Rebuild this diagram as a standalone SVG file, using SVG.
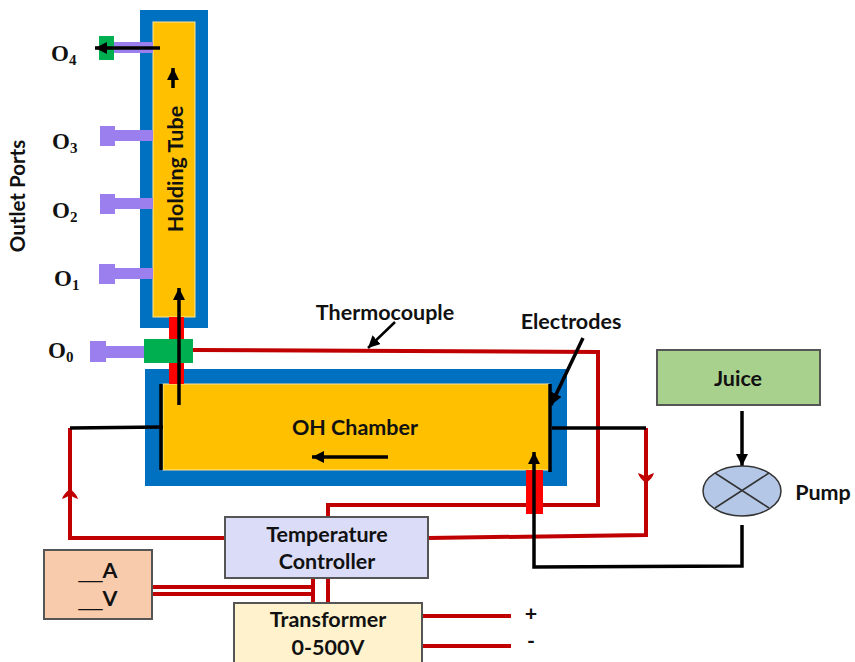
<svg xmlns="http://www.w3.org/2000/svg" width="855" height="662" viewBox="0 0 855 662">
<style>
.c{font-family:Lato,"Open Sans","Liberation Sans",sans-serif;font-weight:700;fill:#111;font-size:21.5px;text-anchor:middle}
.u{font-family:"Liberation Sans",sans-serif;font-weight:400}
.o{font-family:"Liberation Serif",serif;font-weight:700;fill:#111;font-size:23px}
.o tspan{font-size:15px}
.box{stroke:#555;stroke-width:2}
.r{fill:none;stroke:#c00000;stroke-width:4}
.k{fill:none;stroke:#000;stroke-width:3.5}
.p{fill:#9b7fef}
.outer{fill:#0070c0}
.inner{fill:#ffc000;stroke:#ffe699;stroke-width:1}
</style>
<defs>
<marker id="a" markerUnits="userSpaceOnUse" markerWidth="16" markerHeight="16" refX="12" refY="6" orient="auto"><path d="M0,0L12,6L0,12z" fill="#000"/></marker>
<marker id="b" markerUnits="userSpaceOnUse" markerWidth="20" markerHeight="20" refX="12" refY="10" orient="auto"><path d="M12,10C9,6 6,3 2,2C3,5 4,7 5,8.5L5,11.5C4,13 3,15 2,18C6,17 9,14 12,10z" fill="#c00000"/></marker>
</defs>
<g id="holding-tube">
<rect class="outer" x="140" y="10" width="68" height="318"/>
<rect class="inner" x="153" y="22" width="42" height="295"/>
<text class="c" transform="translate(183,169) rotate(-90)">Holding Tube</text>
</g>
<g id="oh-chamber">
<rect class="outer" x="145" y="369" width="422" height="117"/>
<rect class="inner" x="163" y="384" width="386" height="86"/>
<text class="c" x="355" y="435">OH Chamber</text>
</g>
<g id="port-o4">
<rect class="p" x="114" y="42" width="39" height="11"/>
<rect x="99" y="36" width="15" height="24" fill="#00b050"/>
<text class="o" x="51" y="61">O<tspan dy="4">4</tspan></text>
</g>
<g id="port-o3">
<rect class="p" x="115" y="130" width="38" height="11"/>
<rect class="p" x="100" y="126" width="15" height="20"/>
<text class="o" x="52" y="149">O<tspan dy="4">3</tspan></text>
</g>
<g id="port-o2">
<rect class="p" x="115" y="198" width="38" height="11"/>
<rect class="p" x="100" y="194" width="15" height="20"/>
<text class="o" x="52" y="218">O<tspan dy="4">2</tspan></text>
</g>
<g id="port-o1">
<rect class="p" x="115" y="268" width="38" height="11"/>
<rect class="p" x="99" y="264" width="16" height="20"/>
<text class="o" x="54" y="286">O<tspan dy="4">1</tspan></text>
</g>
<g id="junction-o0">
<rect x="169" y="317" width="15" height="67" fill="#f00"/>
<rect class="p" x="106" y="346" width="38" height="12"/>
<rect class="p" x="90" y="341" width="16" height="21"/>
<rect x="144" y="339" width="49" height="24" fill="#00b050"/>
<text class="o" x="48" y="358">O<tspan dy="4">0</tspan></text>
</g>
<g id="outlet-label"><text class="c" transform="translate(25,196) rotate(-90)" style="font-size:20.5px">Outlet Ports</text></g>
<g id="connectors">
<path class="r" d="M193,350L598,352V505H328V517"/>
<path class="r" d="M428,538L646,535V428"/>
<path class="r" d="M225,538H70V428"/>
<path class="r" d="M646,470V483" marker-end="url(#b)"/>
<path class="r" d="M70,505V489" marker-end="url(#b)"/>
<path class="r" d="M152,587H313M152,594H313M313,578V603M328,578V603"/>
<path class="r" d="M422,616H511M422,646H511"/>
<path d="M395,322L368,348" stroke="#000" stroke-width="2.5" fill="none" marker-end="url(#a)"/>
<path class="k" d="M70,428L163,427"/>
<path class="k" d="M161,384V470"/>
<path class="k" d="M552,428H646"/>
<rect x="526" y="470" width="17" height="44" fill="#f00"/>
<path class="k" d="M550,384V472"/>
<path class="k" d="M583,338L551,405" marker-end="url(#a)"/>
<path class="k" d="M742,525V566L534,567V452" marker-end="url(#a)"/>
<path class="k" d="M742,411V466" marker-end="url(#a)"/>
<path class="k" d="M179,405V288" marker-end="url(#a)"/>
<path class="k" d="M160,48H95" marker-end="url(#a)"/>
<path class="k" d="M173,88V68" marker-end="url(#a)"/>
<path class="k" d="M388,457H312" marker-end="url(#a)"/>
</g>
<g id="thermocouple-label"><text class="c" x="385" y="320">Thermocouple</text></g>
<g id="electrodes-label"><text class="c" x="571" y="329">Electrodes</text></g>
<g id="juice">
<rect class="box" x="657" y="350" width="163" height="55" fill="#a9d18e"/>
<text class="c" x="738" y="386">Juice</text>
</g>
<g id="pump">
<ellipse cx="742" cy="491" rx="39" ry="25" fill="#b4c7e7" stroke="#333" stroke-width="1.5"/>
<path d="M715,473L769,508M769,473L715,508" stroke="#333" stroke-width="1.5"/>
<text class="c" x="823" y="500">Pump</text>
</g>
<g id="temperature-controller">
<rect class="box" x="225" y="517" width="203" height="61" fill="#dadcf8"/>
<text class="c" x="327" y="542">Temperature</text>
<text class="c" x="327" y="569">Controller</text>
</g>
<g id="meter">
<rect class="box" x="44" y="550" width="108" height="69" fill="#f8cbad"/>
<text class="c" x="98" y="578"><tspan class="u">__</tspan>A</text>
<text class="c" x="98" y="606"><tspan class="u">__</tspan>V</text>
</g>
<g id="transformer">
<rect class="box" x="234" y="603" width="188" height="62" fill="#fff2cc"/>
<text class="c" x="328" y="627">Transformer</text>
<text class="c" x="328" y="655">0-500V</text>
</g>
<g id="terminals">
<text class="c" x="531" y="621">+</text>
<text class="c" x="531" y="648">-</text>
</g>
</svg>
